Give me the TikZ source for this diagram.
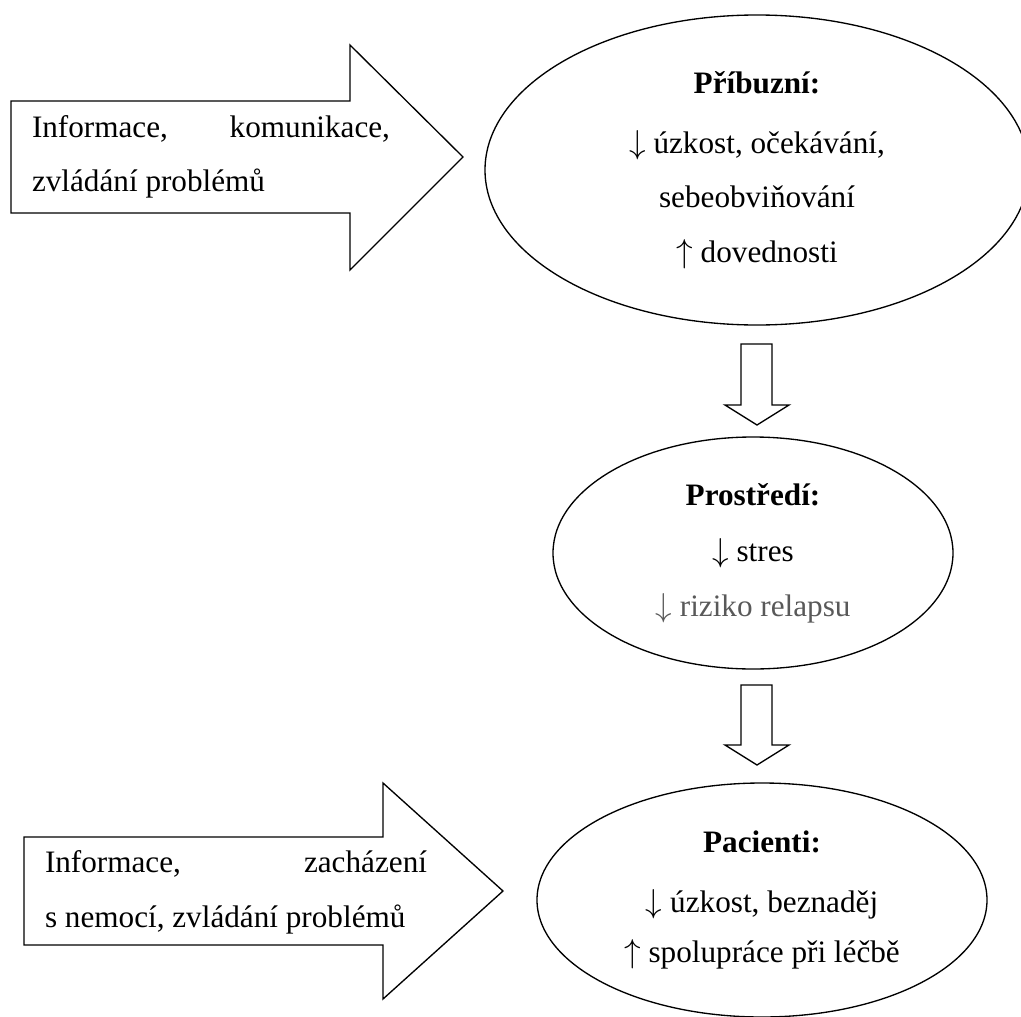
\documentclass[tikz,border=0pt]{standalone}
\usepackage{fontspec}
\setmainfont{Liberation Serif}
\usetikzlibrary{shapes.geometric}
\definecolor{relgray}{RGB}{89,89,89}
\newcommand{\dnarr}{$\downarrow$}
\newcommand{\uparr}{$\uparrow$}
\tikzset{
  blockarrow/.style={draw=black, line width=1pt, fill=white, line join=miter},
  bubble/.style={draw=black, line width=1pt, ellipse, inner sep=0pt, align=center,
    font=\fontsize{23.4}{41}\selectfont},
  armtext/.style={inner sep=0pt, align=justify, font=\fontsize{23.4}{41}\selectfont},
}
\begin{document}
\begin{tikzpicture}[x=0.75pt,y=-0.75pt]
\useasboundingbox (0,0) rectangle (1021,1017);
\clip (0,0) rectangle (1021,1017);

% top-left block arrow
\draw[blockarrow] (11,101) -- (350,101) -- (350,45) -- (463,157) -- (350,270) -- (350,213) -- (11,213) -- cycle;
\node[armtext, text width=268.5pt] (t1) at (211,157) {Informace, komunikace,\linebreak zvládání problémů};

% bottom-left block arrow
\draw[blockarrow] (24,837) -- (383,837) -- (383,783) -- (503,891) -- (383,999) -- (383,945) -- (24,945) -- cycle;
\node[armtext, text width=286.5pt] (t2) at (236,892) {Informace, zacházení\linebreak s nemocí, zvládání problémů};

% ellipses
\node[bubble, minimum width=408pt, minimum height=232.5pt] (pri) at (757,170)
  {\textbf{Příbuzní:}\\[4pt] \dnarr\ úzkost, očekávání,\\ sebeobviňování\\ \uparr\ dovednosti};
\node[bubble, minimum width=300pt, minimum height=174pt] (pro) at (753,553)
  {\textbf{Prostředí:}\\[1pt] \dnarr\ stres\\ \textcolor{relgray}{\dnarr\ riziko relapsu}};
\node[bubble, minimum width=337.5pt, minimum height=175.5pt] (pac) at (762,900)
  {\textbf{Pacienti:}\\[4pt] \dnarr\ úzkost, beznaděj\\[-3pt] \uparr\ spolupráce při léčbě};

% down block arrows
\draw[blockarrow] (741,344) -- (772,344) -- (772,405) -- (789,405) -- (757,425) -- (725,405) -- (741,405) -- cycle;
\draw[blockarrow] (741,685) -- (772,685) -- (772,745) -- (789,745) -- (757,765) -- (725,745) -- (741,745) -- cycle;
\end{tikzpicture}
\end{document}
